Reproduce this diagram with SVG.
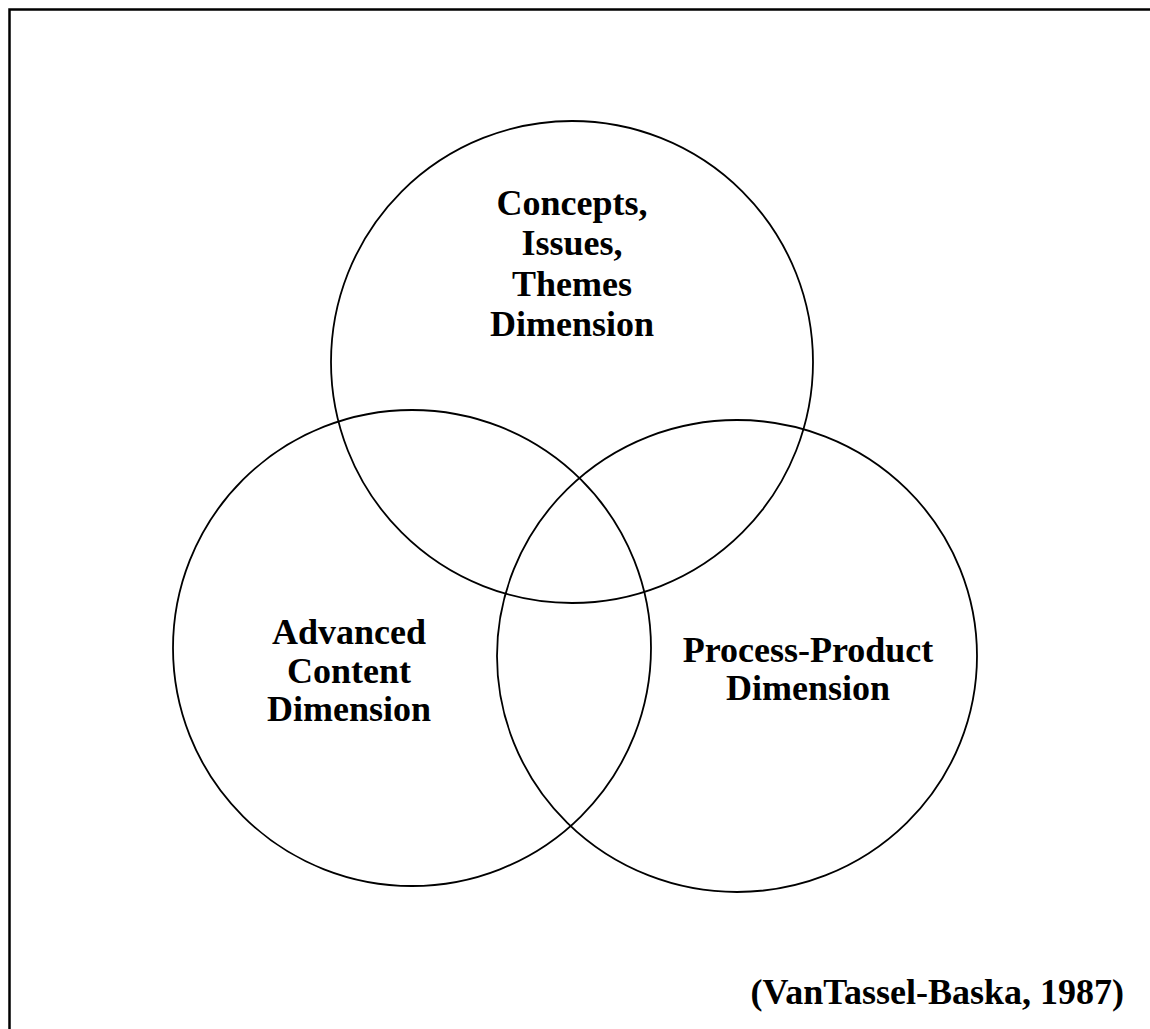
<svg xmlns="http://www.w3.org/2000/svg" width="1150" height="1029" viewBox="0 0 1150 1029">
<style>
.c{fill:none;stroke:#000;stroke-width:1.8}
.t{font-family:"Liberation Serif","Times New Roman",serif;font-weight:bold;font-size:36px;fill:#000;text-anchor:middle}
</style>
<rect x="0" y="0" width="1150" height="1029" fill="#fff"/>
<rect x="9.5" y="9.5" width="1200" height="1100" fill="none" stroke="#000" stroke-width="2.5"/>
<g id="top-circle">
<ellipse class="c" cx="572" cy="362" rx="241" ry="241"/>
<text class="t" x="572" y="215">Concepts,</text>
<text class="t" x="572" y="255">Issues,</text>
<text class="t" x="572" y="296">Themes</text>
<text class="t" x="572" y="336">Dimension</text>
</g>
<g id="left-circle">
<ellipse class="c" cx="412" cy="648" rx="239" ry="238"/>
<text class="t" x="349" y="644">Advanced</text>
<text class="t" x="349" y="683">Content</text>
<text class="t" x="349" y="721">Dimension</text>
</g>
<g id="right-circle">
<ellipse class="c" cx="737" cy="656" rx="240" ry="236"/>
<text class="t" x="808" y="662">Process-Product</text>
<text class="t" x="808" y="700">Dimension</text>
</g>
<g id="connectors"/>
<text class="t" x="1124" y="1004" style="text-anchor:end">(VanTassel-Baska, 1987)</text>
</svg>
